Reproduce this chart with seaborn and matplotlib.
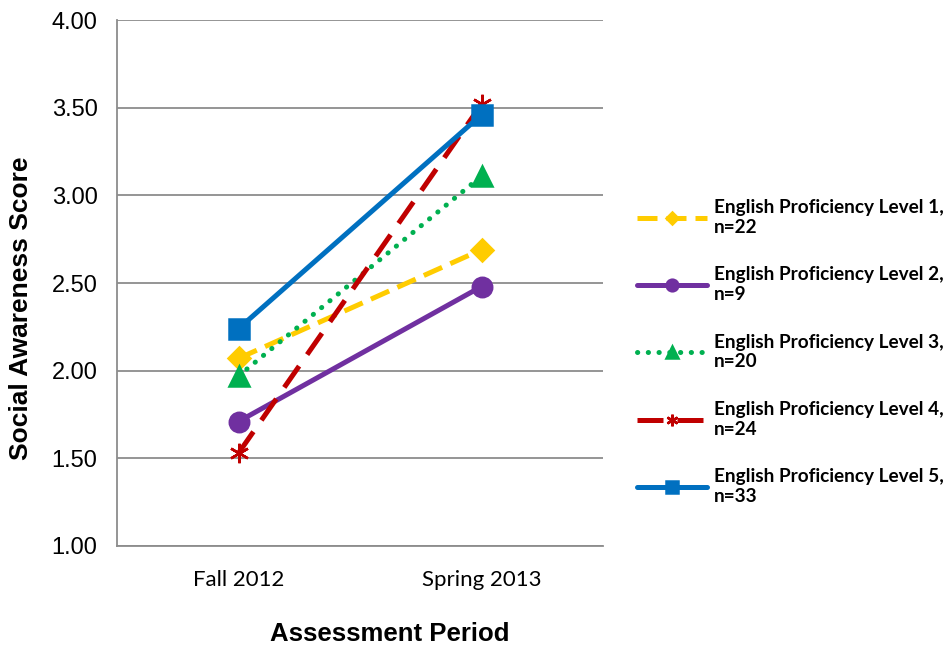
import numpy as np
import pandas as pd
import matplotlib
matplotlib.use('Agg')
import matplotlib.pyplot as plt
import seaborn as sns

periods = ['Fall 2012', 'Spring 2013']
levels = ['English Proficiency Level 1,\nn=22',
          'English Proficiency Level 2,\nn=9',
          'English Proficiency Level 3,\nn=20',
          'English Proficiency Level 4,\nn=24',
          'English Proficiency Level 5,\nn=33']
level1 = [2.07, 2.69]
level2 = [1.71, 2.48]
level3 = [1.97, 3.11]
level4 = [1.53, 3.52]
level5 = [2.24, 3.46]
yticks = [1.00, 1.50, 2.00, 2.50, 3.00, 3.50, 4.00]

sns.set_style('white')
plt.rcParams['font.family'] = ['Liberation Sans', 'DejaVu Sans']
plt.rcParams['text.color'] = 'black'
plt.rcParams['axes.labelcolor'] = 'black'

styles = [
    dict(color='#FFCC00', ls=(0, (4, 1.8)), marker='D', ms=11, cap='butt'),
    dict(color='#7030A0', ls='-', marker='o', ms=14, cap='butt'),
    dict(color='#00B050', ls=(0, (0.05, 2.1)), marker='^', ms=14, cap='round'),
    dict(color='#C00000', ls=(0, (5.2, 2.8)), marker=(6, 2, 0), ms=14, cap='butt'),
    dict(color='#0070C0', ls='-', marker='s', ms=14, cap='butt'),
]
series = [level1, level2, level3, level4, level5]

fig = plt.figure(figsize=(9.53, 6.52), dpi=100)
ax = fig.add_axes([0.1228, 0.1626, 0.5100, 0.8067])

for name, vals, st in zip(levels, series, styles):
    df = pd.DataFrame({'x': np.arange(len(periods)), 'y': vals})
    sns.lineplot(data=df, x='x', y='y', ax=ax, color=st['color'], lw=3.6,
                 marker=st['marker'], markersize=st['ms'], label=name,
                 markeredgecolor=st['color'], markeredgewidth=1.8,
                 dash_capstyle=st['cap'])
    ax.lines[-1].set_linestyle(st['ls'])

ax.set_xlim(-0.5, 1.5)
ax.set_ylim(1.0, 4.0)
ax.set_yticks(yticks)
ax.set_yticklabels([f'{v:.2f}' for v in yticks], fontsize=17, color='black')
ax.set_xticks([0, 1])
ax.set_xticklabels(periods, fontsize=16, color='black', family=['Lato', 'DejaVu Sans'])
ax.set_xticks([-0.5, 0.5, 1.5], minor=True)
ax.tick_params(axis='x', which='major', length=0, pad=17)
ax.tick_params(axis='x', which='minor', length=7, color='#8c8c8c', width=1.3, direction='out')
ax.tick_params(axis='y', length=7, color='#8c8c8c', width=1.3, direction='out', pad=7)
ax.grid(axis='y', color='#8c8c8c', lw=1.3)
ax.set_axisbelow(True)
for s in ['top', 'right']:
    ax.spines[s].set_visible(False)
for s in ['left', 'bottom']:
    ax.spines[s].set_color('#8c8c8c')
    ax.spines[s].set_linewidth(1.3)

ax.set_xlabel('Assessment Period', fontsize=18.5, fontweight='bold')
ax.xaxis.set_label_coords(0.562, -0.1445)
ax.set_ylabel('Social Awareness Score', fontsize=19, fontweight='bold')
ax.yaxis.set_label_coords(-0.173, 0.452)

leg = ax.legend(loc='center left', bbox_to_anchor=(0.668, 0.46), bbox_transform=fig.transFigure,
                frameon=False, handlelength=3.7, labelspacing=1.6, handletextpad=0.37,
                borderpad=0, borderaxespad=0, markerscale=0.6,
                prop={'family': 'Lato', 'weight': 'bold', 'size': 13.7})

fig.savefig('out.png', dpi=100)
